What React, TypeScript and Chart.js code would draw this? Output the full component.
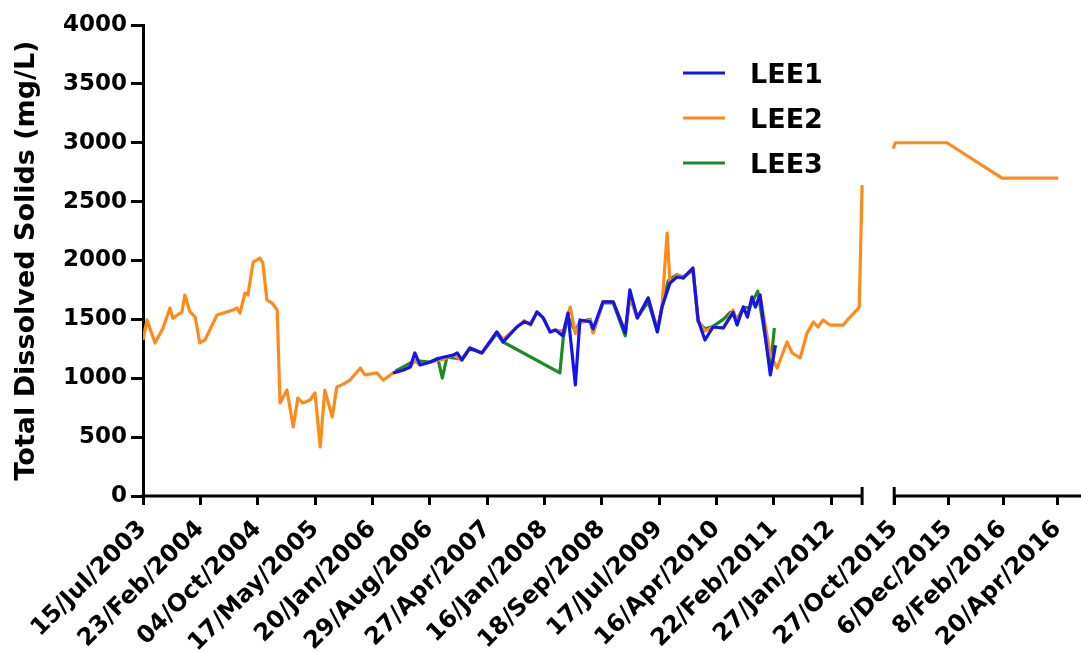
import React, { useEffect, useRef } from "react";
import { Chart, registerables } from "chart.js";

Chart.register(...registerables);

// x positions are sample index along the (broken) category axis; y values are TDS in mg/L
const TICK_INDEX = [0, 10, 20, 30, 40, 50, 60, 70, 80, 90, 100, 110, 120, 131, 140.5, 150, 159.5];
const TICK_LABELS = [
  "15/Jul/2003", "23/Feb/2004", "04/Oct/2004", "17/May/2005", "20/Jan/2006",
  "29/Aug/2006", "27/Apr/2007", "16/Jan/2008", "18/Sep/2008", "17/Jul/2009",
  "16/Apr/2010", "22/Feb/2011", "27/Jan/2012", "27/Oct/2015", "6/Dec/2015",
  "8/Feb/2016", "20/Apr/2016",
];
const AXIS_MAX = 163.4;
const BREAK_FROM = 125.4;
const BREAK_TO = 131;

const LEE1: [number, number][] = [
  [43.6, 1045], [45.4, 1070], [46.6, 1096], [47.4, 1215], [48.3, 1113], [50.1, 1138],
  [51.8, 1172], [54.1, 1197], [54.8, 1215], [55.6, 1155], [57.0, 1257], [59.1, 1215],
  [61.7, 1393], [62.8, 1308], [65.2, 1435], [66.5, 1480], [67.6, 1460], [68.7, 1563],
  [69.8, 1512], [71.0, 1393], [71.9, 1410], [73.2, 1360], [74.1, 1554], [75.4, 943],
  [76.2, 1495], [78.0, 1480], [78.5, 1420], [80.2, 1648], [82.0, 1648], [84.1, 1384],
  [84.9, 1750], [86.2, 1512], [88.1, 1682], [89.7, 1393], [90.5, 1605], [91.9, 1809],
  [93.1, 1860], [94.2, 1851], [95.9, 1936], [96.8, 1495], [98.0, 1325], [99.4, 1435],
  [101.2, 1427], [102.9, 1560], [103.6, 1452], [104.7, 1605], [105.4, 1520], [106.2, 1690],
  [106.8, 1605], [107.6, 1707], [109.4, 1028], [110.3, 1280],
];

const LEE2: [number, number | null][] = [
  [0, 1325], [0.7, 1495], [2.1, 1300], [3.5, 1427], [4.7, 1597], [5.2, 1510], [6.8, 1563],
  [7.3, 1707], [8.2, 1563], [9.1, 1520], [9.9, 1300], [10.8, 1325], [12.9, 1537], [15.7, 1580],
  [16.4, 1597], [16.9, 1554], [17.8, 1724], [18.3, 1707], [19.2, 1987], [20.4, 2021],
  [20.9, 1979], [21.6, 1665], [22.5, 1639], [23.4, 1580], [23.9, 790], [25.1, 900],
  [26.2, 586], [27.0, 832], [27.9, 790], [29.1, 815], [30.0, 875], [30.9, 416], [31.7, 900],
  [33.0, 671], [33.8, 926], [34.9, 950], [36.1, 985], [37.9, 1087], [38.7, 1028], [40.8, 1045],
  [41.9, 985], [43.6, 1045], [45.4, 1070], [46.6, 1096], [47.4, 1150], [48.3, 1113],
  [50.1, 1138], [52.2, 1160], [54.1, 1197], [55.6, 1155], [57.0, 1257], [59.1, 1215],
  [61.7, 1393], [62.8, 1330], [65.2, 1435], [66.5, 1490], [67.6, 1450], [68.7, 1563],
  [69.8, 1512], [71.0, 1393], [71.9, 1410], [73.3, 1400], [74.5, 1605], [75.4, 1380],
  [76.2, 1469], [78.0, 1495], [78.5, 1384], [80.2, 1648], [82.0, 1648], [84.1, 1400],
  [84.9, 1700], [86.2, 1512], [88.1, 1682], [89.7, 1420], [90.5, 1605], [91.4, 2233],
  [91.9, 1809], [93.1, 1877], [94.2, 1851], [95.9, 1936], [96.8, 1495], [98.0, 1400],
  [99.4, 1435], [101.2, 1427], [102.9, 1580], [103.6, 1480], [104.7, 1605], [105.4, 1520],
  [106.2, 1690], [106.8, 1605], [107.6, 1707], [109.4, 1200], [110.6, 1087], [112.3, 1308],
  [113.2, 1215], [114.6, 1172], [115.8, 1384], [116.9, 1478], [117.7, 1435], [118.6, 1495],
  [119.8, 1452], [122.1, 1452], [123.3, 1520], [124.5, 1580], [124.9, 1605], [125.4, 2640],
  [128, null], [130.8, 2950], [131.2, 3000], [140.2, 3000], [149.8, 2700], [159.6, 2700],
];

const LEE3: [number, number][] = [
  [44.0, 1060], [47.4, 1150], [50.1, 1138], [51.4, 1170], [52.2, 1002], [53.0, 1180],
  [55.6, 1165], [57.0, 1250], [59.1, 1215], [61.7, 1380], [62.8, 1308], [72.7, 1045],
  [73.3, 1350], [74.1, 1520], [75.4, 1400], [76.2, 1480], [78.0, 1500], [78.5, 1390],
  [80.2, 1640], [82.0, 1640], [84.1, 1360], [84.9, 1700], [86.2, 1512], [88.1, 1650],
  [89.7, 1400], [90.5, 1600], [91.6, 1830], [93.1, 1880], [94.2, 1860], [95.9, 1920],
  [96.8, 1480], [98.0, 1420], [99.4, 1440], [101.2, 1500], [102.4, 1560], [103.6, 1500],
  [104.7, 1600], [105.8, 1600], [107.2, 1740], [109.4, 1080], [110.1, 1427],
];

const SERIES_NAMES = ["LEE1", "LEE2", "LEE3"];
const SERIES_COLORS = ["#1414f0", "#ff8a1c", "#1f8a24"];

const FONT = "'DejaVu Sans', Verdana, sans-serif";

export default function App() {
  const ref = useRef<HTMLCanvasElement | null>(null);

  useEffect(() => {
    document.body.style.margin = "0";
    const canvas = ref.current;
    if (!canvas) return;

    const toXY = (arr: [number, number | null][]) => arr.map(([x, y]) => ({ x, y }));

    const brokenAxisAndLegend = {
      id: "brokenAxisAndLegend",
      afterDraw(chart: any) {
        const { ctx, chartArea, scales } = chart;
        const xs = scales.x;
        const y0 = chartArea.bottom;
        const xEnd = xs.getPixelForValue(BREAK_FROM);
        const xStart = xs.getPixelForValue(BREAK_TO);
        ctx.save();
        ctx.strokeStyle = "#000";
        ctx.lineWidth = 3;
        ctx.lineCap = "butt";
        ctx.beginPath();
        ctx.moveTo(chartArea.left - 1.5, y0);
        ctx.lineTo(xEnd, y0);
        ctx.moveTo(xEnd, y0 - 9);
        ctx.lineTo(xEnd, y0 + 9);
        ctx.moveTo(xStart, y0 - 9);
        ctx.lineTo(xStart, y0 + 9);
        ctx.moveTo(xStart, y0);
        ctx.lineTo(chartArea.right + 2, y0);
        ctx.stroke();

        // legend inside the plot
        chart.data.datasets.forEach((ds: any, i: number) => {
          const ly = chartArea.top + 48 + i * 45;
          ctx.strokeStyle = ds.borderColor;
          ctx.lineWidth = 3;
          ctx.beginPath();
          ctx.moveTo(chartArea.left + 540, ly);
          ctx.lineTo(chartArea.left + 582, ly);
          ctx.stroke();
          ctx.fillStyle = "#000";
          ctx.font = `bold 27px ${FONT}`;
          ctx.textAlign = "left";
          ctx.textBaseline = "alphabetic";
          ctx.fillText(ds.label, chartArea.left + 607, ly + 10);
        });
        ctx.restore();
      },
    };

    const chart = new Chart(canvas, {
      type: "line",
      data: {
        datasets: [
          { label: SERIES_NAMES[0], data: toXY(LEE1) },
          { label: SERIES_NAMES[1], data: toXY(LEE2) },
          { label: SERIES_NAMES[2], data: toXY(LEE3) },
        ].map((d, i) => ({
          ...d,
          borderColor: SERIES_COLORS[i],
          backgroundColor: SERIES_COLORS[i],
          borderWidth: 3.2,
          pointRadius: 0,
          tension: 0,
          spanGaps: false,
          borderJoinStyle: "round" as const,
        })),
      },
      options: {
        animation: false,
        responsive: true,
        maintainAspectRatio: false,
        layout: { padding: { top: 25, right: 1, left: 0, bottom: 0 } },
        plugins: {
          legend: { display: false },
          tooltip: { enabled: false },
        },
        scales: {
          x: {
            type: "linear",
            min: 0,
            max: AXIS_MAX,
            afterBuildTicks: (scale: any) => {
              scale.ticks = TICK_INDEX.map((v) => ({ value: v }));
            },
            afterFit: (scale: any) => {
              scale.height = 156;
              scale.paddingRight = 0;
              scale.paddingLeft = 0;
            },
            ticks: {
              autoSkip: false,
              minRotation: 45,
              maxRotation: 45,
              padding: 10,
              color: "#000",
              font: { family: FONT, size: 24, weight: "bold" },
              callback: (_v: any, i: number) => TICK_LABELS[i],
            },
            grid: {
              drawOnChartArea: false,
              drawTicks: true,
              tickLength: 9,
              color: "#000",
              lineWidth: 3,
            },
            border: { display: false },
          },
          y: {
            min: 0,
            max: 4000,
            afterFit: (scale: any) => {
              scale.width = 143;
            },
            ticks: {
              stepSize: 500,
              padding: 4,
              color: "#000",
              font: { family: FONT, size: 23, weight: "bold" },
              callback: (v: any) => String(v),
            },
            grid: {
              drawOnChartArea: false,
              drawTicks: true,
              tickLength: 12,
              color: "#000",
              lineWidth: 3,
            },
            border: { display: true, color: "#000", width: 3 },
            title: {
              display: true,
              text: "Total Dissolved Solids (mg/L)",
              color: "#000",
              font: { family: FONT, size: 27, weight: "bold" },
              padding: { top: 11, bottom: 0 },
            },
          },
        },
      },
      plugins: [brokenAxisAndLegend],
    });

    return () => chart.destroy();
  }, []);

  return (
    <div style={{ width: 1081, height: 652, position: "relative", background: "#fff" }}>
      <canvas ref={ref} />
    </div>
  );
}
